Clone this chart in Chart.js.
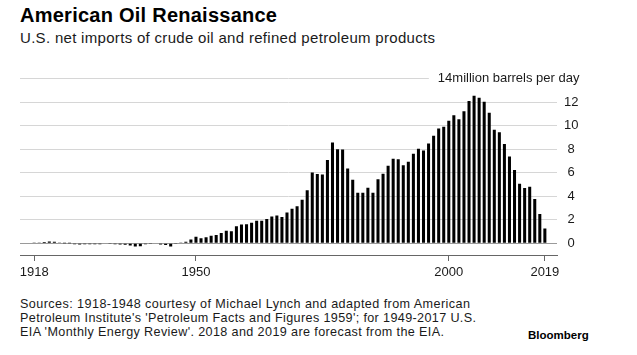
<!DOCTYPE html>
<html>
<head>
<meta charset="utf-8">
<script src="https://cdn.jsdelivr.net/npm/chart.js@4"></script>
<style>
  html, body { margin:0; padding:0; background:#fff; width:637px; height:355px; overflow:hidden; }
  body { position:relative; font-family:"Liberation Sans", Arial, sans-serif; color:#111; }
  .t { position:absolute; white-space:nowrap; line-height:1; }
  #title { left:20px; top:5px; font-size:20px; font-weight:bold; color:#000; }
  #subtitle { left:20px; top:30px; font-size:15px; color:#1a1a1a; }
  #src { left:20px; top:297px; font-size:12.6px; line-height:14.2px; color:#1a1a1a; }
  #src span { display:block; white-space:nowrap; }
  #logo { left:528px; top:330px; font-size:11.5px; font-weight:bold; color:#000; }
  #wrap { position:absolute; left:0; top:60px; width:637px; height:225px; }
</style>
</head>
<body>
<div id="title" class="t" data-w="257">American Oil Renaissance</div>
<div id="subtitle" class="t" data-w="415">U.S. net imports of crude oil and refined petroleum products</div>
<div id="wrap"><canvas id="c" width="637" height="225"></canvas></div>
<div id="src" class="t">
  <span data-w="450">Sources: 1918-1948 courtesy of Michael Lynch and adapted from American</span>
  <span data-w="456">Petroleum Institute's 'Petroleum Facts and Figures 1959'; for 1949-2017 U.S.</span>
  <span data-w="424">EIA 'Monthly Energy Review'. 2018 and 2019 are forecast from the EIA.</span>
</div>
<div id="logo" class="t">Bloomberg</div>
<script>
// ---- data ----
const years = [];
for (let y = 1918; y <= 2019; y++) years.push(y);

const netImports = [
  // 1918-1927
  0.02, 0.03, 0.10, 0.15, 0.12, 0.02, 0.01, 0.01, -0.08, -0.10,
  // 1928-1937
  -0.08, -0.08, -0.08, -0.08, -0.05, -0.06, -0.08, -0.10, -0.12, -0.20,
  // 1938-1947
  -0.28, -0.25, -0.08, -0.02, -0.05, -0.10, -0.15, -0.28, -0.03, 0.02,
  // 1948-1957
  0.12, 0.32, 0.55, 0.42, 0.52, 0.63, 0.70, 0.88, 1.06, 1.02,
  // 1958-1967
  1.45, 1.59, 1.61, 1.74, 1.91, 1.91, 2.06, 2.28, 2.37, 2.24,
  // 1968-1977
  2.61, 2.93, 3.16, 3.70, 4.52, 6.03, 5.89, 5.85, 7.09, 8.57,
  // 1978-1987
  8.00, 7.99, 6.37, 5.40, 4.30, 4.31, 4.72, 4.29, 5.44, 5.91,
  // 1988-1997
  6.59, 7.20, 7.16, 6.63, 6.94, 7.62, 8.05, 7.89, 8.50, 9.16,
  // 1998-2007
  9.76, 9.91, 10.42, 10.90, 10.55, 11.24, 12.10, 12.55, 12.39, 12.04,
  // 2008-2017
  11.11, 9.67, 9.44, 8.45, 7.39, 6.24, 5.07, 4.71, 4.80, 3.77,
  // 2018-2019 (EIA forecast)
  2.50, 1.25
];

const xTickYears = [1918, 1950, 2000, 2019];
const yTickValues = [0, 2, 4, 6, 8, 10, 12, 14];
const yUnit = 'million barrels per day';

// ---- text width fitting (letter-spacing) ----
document.querySelectorAll('[data-w]').forEach(el => {
  const target = parseFloat(el.dataset.w);
  const r = document.createRange(); r.selectNodeContents(el);
  const w = r.getBoundingClientRect().width;
  const n = el.textContent.trim().length - 1;
  if (n > 0) el.style.letterSpacing = ((target - w) / n) + 'px';
});

// ---- chart ----
Chart.defaults.font.family = '"Liberation Sans", Arial, sans-serif';
Chart.defaults.font.size = 13;
Chart.defaults.color = '#1a1a1a';

const yMax = yTickValues[yTickValues.length - 1];
const yTickPad = 7;

const unitLabelPlugin = {
  id: 'unitLabel',
  afterDraw(chart) {
    const ys = chart.scales.y;
    const y = ys.getPixelForValue(yMax);
    const ctx = chart.ctx;
    const text = yMax + yUnit;
    ctx.save();
    ctx.font = '13px "Liberation Sans", Arial, sans-serif';
    const tw = ctx.measureText(text).width;
    const ref = ctx.measureText(String(yTickValues[yTickValues.length - 2])).width;
    const right = ys.left + yTickPad + ref + 1;
    const left = right - tw;
    ctx.fillStyle = '#fff';
    ctx.fillRect(left - 9, y - 3, chart.chartArea.right - left + 12, 6);
    ctx.fillStyle = '#1a1a1a';
    ctx.textAlign = 'right';
    ctx.textBaseline = 'middle';
    ctx.fillText(text, right, y);
    ctx.restore();
  }
};

new Chart(document.getElementById('c'), {
  type: 'bar',
  data: {
    labels: years,
    datasets: [{
      data: netImports,
      backgroundColor: '#000',
      borderWidth: 0,
      barPercentage: 0.6,
      categoryPercentage: 1.0
    }]
  },
  options: {
    responsive: false,
    animation: false,
    devicePixelRatio: 1,
    layout: { padding: { top: 18.8, left: 20, right: 0, bottom: 0 } },
    plugins: { legend: { display: false }, tooltip: { enabled: false } },
    scales: {
      x: {
        type: 'linear',
        min: 1915.2,
        max: 2021.4,
        offset: false,
        afterBuildTicks: s => { s.ticks = xTickYears.map(v => ({ value: v })); },
        afterFit: s => { s.height = 30; },
        ticks: { autoSkip: false, maxRotation: 0, padding: 4, callback: v => String(v), color: '#1a1a1a' },
        grid: { display: true, drawOnChartArea: false, drawTicks: true, tickLength: 6, tickColor: '#666', offset: false },
        border: { display: true, color: '#666', width: 1 }
      },
      y: {
        position: 'right',
        min: -1,
        max: yMax,
        afterBuildTicks: s => { s.ticks = yTickValues.map(v => ({ value: v })); },
        afterFit: s => { s.width = 80; },
        ticks: {
          padding: yTickPad,
          crossAlign: 'center',
          color: '#1a1a1a',
          callback: v => (v === yMax ? '' : String(v))
        },
        grid: {
          drawTicks: false,
          color: c => (c.tick && c.tick.value === 0 ? '#9a9a9a' : '#d6d6d6'),
          lineWidth: 1
        },
        border: { display: false }
      }
    }
  },
  plugins: [unitLabelPlugin]
});
</script>
</body>
</html>
